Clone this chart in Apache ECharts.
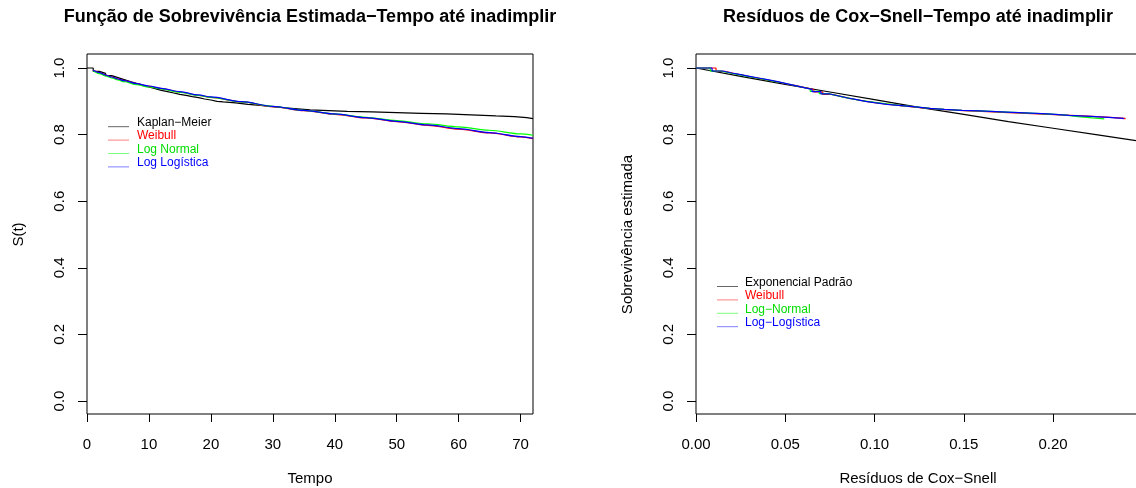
<!DOCTYPE html>
<html><head><meta charset="utf-8">
<script src="https://cdn.jsdelivr.net/npm/echarts@6/dist/echarts.min.js"></script>
<style>html,body{margin:0;padding:0;background:#fff}#c{width:1136px;height:488px}</style>
</head><body><div id="c"></div>
<script>
// ---------------- DATA ----------------
const titleLeft = 'Função de Sobrevivência Estimada−Tempo até inadimplir';
const titleRight = 'Resíduos de Cox−Snell−Tempo até inadimplir';
const xTicksLeft = [0, 10, 20, 30, 40, 50, 60, 70];
const xTicksRight = [0, 0.05, 0.10, 0.15, 0.20];
const yTicks = [0, 0.2, 0.4, 0.6, 0.8, 1.0];
const legendLeft = ['Kaplan−Meier', 'Weibull', 'Log Normal', 'Log Logística'];
const legendRight = ['Exponencial Padrão', 'Weibull', 'Log−Normal', 'Log−Logística'];

// Left panel: Kaplan-Meier (step) and fitted parametric curves
const kmTime = [0, 1, 2, 3, 4, 5, 6, 7, 8, 9, 10, 11, 12, 13, 14, 15, 16, 17, 18, 19, 20, 21, 22, 24, 26, 28, 30, 32, 34, 36, 39, 42, 46, 50, 54, 58, 62, 66, 69, 71, 72];
const kmSurv = [1, .990, .984, .977, .971, .965, .959, .954, .948, .943, .938, .933, .929, .925, .921, .918, .914, .911, .907, .904, .900, .898, .895, .891, .888, .884, .880, .877, .874, .872, .870, .868, .866, .864, .862, .859, .856, .854, .851, .848, .846];

const fitTime = [1, 2, 3, 4, 5, 6, 8, 10, 12, 15, 18, 20, 25, 30, 35, 40, 45, 50, 55, 60, 65, 70, 72];
const weibullSurv = [.993, .986, .979, .973, .967, .962, .953, .945, .938, .928, .918, .912, .898, .884, .872, .861, .850, .839, .828, .816, .805, .793, .788];
const lnormSurv   = [.992, .983, .976, .970, .964, .959, .950, .943, .937, .927, .918, .912, .898, .885, .873, .862, .852, .842, .832, .823, .813, .802, .798];
const llogSurv    = [.993, .986, .979, .973, .967, .962, .953, .946, .939, .929, .919, .913, .899, .885, .873, .862, .851, .840, .829, .818, .806, .794, .789];

// Right panel: Cox-Snell residuals
const expResid = [0, 0.025, 0.05, 0.075, 0.10, 0.125, 0.15, 0.175, 0.20, 0.225, 0.2487];
const expSurv  = [1, 0.975, 0.951, 0.928, 0.905, 0.882, 0.861, 0.839, 0.819, 0.799, 0.780];

const csWeibullResid = [0, 0.0112, 0.016, 0.021, 0.026, 0.031, 0.036, 0.041, 0.046, 0.051, 0.056, 0.061, 0.066, 0.071, 0.076, 0.081, 0.086, 0.091, 0.096, 0.101, 0.108, 0.116, 0.124, 0.132, 0.140, 0.150, 0.160, 0.172, 0.185, 0.198, 0.210, 0.222, 0.232, 0.2403];
const csWeibullSurv  = [1, .990, .984, .979, .973, .968, .963, .958, .952, .947, .941, .935, .928, .921, .915, .909, .904, .899, .895, .891, .886, .882, .878, .875, .872, .870, .867, .864, .861, .858, .855, .852, .849, .846];
const csLnormResid = [0, 0.008, 0.014, 0.019, 0.024, 0.029, 0.034, 0.039, 0.044, 0.049, 0.054, 0.059, 0.064, 0.069, 0.074, 0.079, 0.084, 0.089, 0.094, 0.100, 0.107, 0.115, 0.123, 0.131, 0.139, 0.149, 0.159, 0.171, 0.184, 0.196, 0.206, 0.214, 0.222, 0.2287];
const csLnormSurv  = [1, .991, .985, .980, .975, .970, .965, .960, .955, .949, .943, .937, .930, .923, .917, .911, .906, .901, .897, .892, .887, .883, .879, .876, .873, .871, .868, .865, .862, .859, .854, .850, .847, .845];
const csLlogResid = [0, 0.009, 0.015, 0.020, 0.025, 0.030, 0.035, 0.040, 0.045, 0.050, 0.055, 0.060, 0.065, 0.070, 0.075, 0.080, 0.085, 0.090, 0.095, 0.100, 0.107, 0.115, 0.123, 0.131, 0.139, 0.149, 0.159, 0.171, 0.184, 0.197, 0.209, 0.221, 0.231, 0.2393];
const csLlogSurv  = [1, .991, .985, .980, .975, .970, .965, .960, .954, .948, .942, .936, .929, .922, .916, .910, .905, .900, .896, .891, .887, .883, .879, .876, .873, .871, .868, .865, .862, .858, .855, .852, .849, .846];

// ---------------- CHART ----------------
const FONT = "'Liberation Sans', Arial, Helvetica, sans-serif";
const zip = (a, b) => a.map((v, i) => [v, b[i]]);
const chart = echarts.init(document.getElementById('c'), null, {renderer: 'canvas'});

const L = {left: 87, width: 446};
const R = {left: 696, width: 444};
const frameTop = 54, frameH = 360, dataTop = 68, dataH = 333;
const leftMax = 72, rightMax = 0.2487;

function hiddenAxis(gi, max) { return {gridIndex: gi, type: 'value', show: false, min: 0, max: max}; }
function xAx(gi, max, ticks, fmt, name) {
  return {
    gridIndex: gi, type: 'value', min: 0, max: max, position: 'bottom',
    splitLine: {show: false}, axisLine: {show: false},
    axisTick: {show: true, inside: false, length: 8, customValues: ticks, lineStyle: {color: '#000', width: 1}},
    axisLabel: {customValues: ticks, formatter: fmt, fontFamily: FONT, fontSize: 15, color: '#000', margin: 23},
    name: name, nameLocation: 'middle', nameGap: 57,
    nameTextStyle: {fontFamily: FONT, fontSize: 15, color: '#000'}
  };
}
function yAx(gi, name) {
  return {
    gridIndex: gi, type: 'value', min: 0, max: 1,
    splitLine: {show: false}, axisLine: {show: false},
    axisTick: {show: true, inside: false, length: 9, customValues: yTicks, lineStyle: {color: '#000', width: 1}},
    axisLabel: {customValues: yTicks, rotate: 90, formatter: v => v.toFixed(1), fontFamily: FONT, fontSize: 15, color: '#000', margin: 20},
    name: name, nameLocation: 'middle', nameRotate: 90, nameGap: 61,
    nameTextStyle: {fontFamily: FONT, fontSize: 15, color: '#000'}
  };
}
function line(name, data, color, xi, yi, step, smooth) {
  return {
    type: 'line', name: name, data: data, xAxisIndex: xi, yAxisIndex: yi,
    step: step || false, smooth: smooth || false, smoothMonotone: 'x',
    showSymbol: false, symbol: 'none', clip: false, silent: true, animation: false,
    lineStyle: {color: color, width: 1.2}, itemStyle: {color: color}
  };
}

const legendLineColors = ['#666666', '#ff7f7f', '#7fff7f', '#7f7fff'];
const legendTextColors = ['#000000', '#ff0000', '#00dd00', '#0000ff'];
function legendGraphics(labels, x1, x2, tx, textY0, lineY0, dy) {
  const g = [];
  labels.forEach((lab, i) => {
    g.push({type: 'line', silent: true, shape: {x1: x1, y1: lineY0 + i * dy, x2: x2, y2: lineY0 + i * dy},
      style: {stroke: legendLineColors[i], lineWidth: 1}});
    g.push({type: 'text', silent: true, x: tx, y: textY0 + i * dy,
      style: {text: lab, fill: legendTextColors[i], font: '12px ' + FONT, verticalAlign: 'middle', align: 'left'}});
  });
  return g;
}
function grid(left, top, width, height, frame) {
  const g = {left: left, top: top, width: width, height: height, containLabel: false, outerBoundsMode: 'none'};
  if (frame) Object.assign(g, {show: true, borderColor: '#000', borderWidth: 1, backgroundColor: 'transparent'});
  return g;
}

const option = {
  animation: false,
  backgroundColor: '#ffffff',
  title: [
    {text: titleLeft, left: L.left + L.width / 2, textAlign: 'center', top: 8, padding: 0,
     textStyle: {fontFamily: FONT, fontSize: 18, fontWeight: 'bold', color: '#000'}},
    {text: titleRight, left: R.left + R.width / 2, textAlign: 'center', top: 8, padding: 0,
     textStyle: {fontFamily: FONT, fontSize: 18, fontWeight: 'bold', color: '#000'}}
  ],
  grid: [
    grid(L.left, frameTop, L.width, frameH, true),
    grid(L.left, dataTop, L.width, dataH, false),
    grid(R.left, frameTop, R.width, frameH, true),
    grid(R.left, dataTop, R.width, dataH, false)
  ],
  xAxis: [
    xAx(0, leftMax, xTicksLeft, v => String(v), 'Tempo'),
    hiddenAxis(1, leftMax),
    xAx(2, rightMax, xTicksRight, v => v.toFixed(2), 'Resíduos de Cox−Snell'),
    hiddenAxis(3, rightMax)
  ],
  yAxis: [
    hiddenAxis(0, 1),
    yAx(1, 'S(t)'),
    hiddenAxis(2, 1),
    yAx(3, 'Sobrevivência estimada')
  ],
  series: [
    line('Kaplan−Meier', zip(kmTime, kmSurv), '#000000', 1, 1, 'end'),
    line('Weibull', zip(fitTime, weibullSurv), '#ff0000', 1, 1, false, 0.3),
    line('Log Normal', zip(fitTime, lnormSurv), '#00ff00', 1, 1, false, 0.3),
    line('Log Logística', zip(fitTime, llogSurv), '#0000ff', 1, 1, false, 0.3),
    line('Exponencial Padrão', zip(expResid, expSurv), '#000000', 3, 3, false, false),
    line('Weibull CS', zip(csWeibullResid, csWeibullSurv), '#ff0000', 3, 3, 'end'),
    line('Log−Normal', zip(csLnormResid, csLnormSurv), '#00ff00', 3, 3, 'end'),
    line('Log−Logística', zip(csLlogResid, csLlogSurv), '#0000ff', 3, 3, 'end')
  ],
  graphic: legendGraphics(legendLeft, 108, 129, 137, 122.7, 126.7, 13.4)
    .concat(legendGraphics(legendRight, 717, 738, 745, 282.7, 286.5, 13.4))
};
chart.setOption(option);
</script>
</body></html>
